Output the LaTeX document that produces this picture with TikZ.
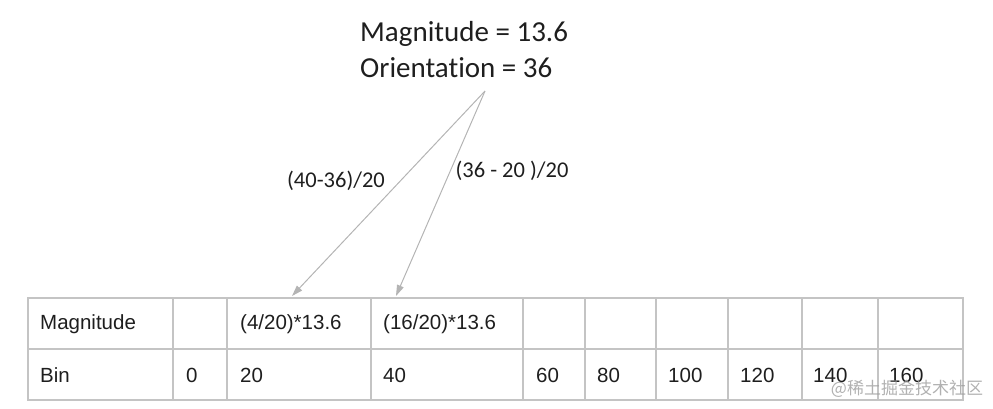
\documentclass[tikz,border=0pt]{standalone}
\usepackage{fontspec}
\setmainfont{Liberation Sans}
\newfontfamily\calib[Ligatures=NoCommon,RawFeature={-liga}]{Carlito}
\newfontfamily\cjk{Noto Sans CJK SC}
\usetikzlibrary{arrows.meta}
\definecolor{gridgray}{HTML}{C4C4C4}
\definecolor{arrgray}{HTML}{B4B4B4}
\definecolor{txt}{HTML}{1E1E1E}
\tikzset{
  cell/.style={anchor=west, inner sep=0pt, text=txt, font=\fontsize{20.5}{24}\selectfont},
  lbl/.style={inner sep=0pt, text=txt, font=\calib\fontsize{22.5}{27}\selectfont},
  conn/.style={draw=arrgray, line width=1pt, -{Triangle[length=11pt,width=7pt]}},
  gridline/.style={draw=gridgray, line width=1.2pt}
}
\begin{document}
\begin{tikzpicture}[x=1pt,y=-1pt]
\useasboundingbox (0,0) rectangle (993,408);
% title
\node[inner sep=0pt, anchor=base west, text=txt, font=\calib\fontsize{29}{35}\selectfont] (t1) at (360,41) {Magnitude = 13.6};
\node[inner sep=0pt, anchor=base west, text=txt, font=\calib\fontsize{29}{35}\selectfont] (t2) at (360,77) {Orientation = 36};
\coordinate (apex) at (485,91);
% table grid
\draw[gridline] (28,298) rectangle (963,400);
\draw[gridline] (28,349) -- (963,349);
\foreach \x in {173,227,371,523,585,656,728,802,878}
  \draw[gridline] (\x,298) -- (\x,400);
% table texts
\node[cell] (m0) at (40,324) {Magnitude};
\node[cell] (m2) at (240,324) {(4/20)*13.6};
\node[cell] (m3) at (383,324) {(16/20)*13.6};
\node[cell] (b0) at (40,375) {Bin};
\node[cell] (b1) at (186,375) {0};
\node[cell] (b2) at (240,375) {20};
\node[cell] (b3) at (383,375) {40};
\node[cell] (b4) at (536,375) {60};
\node[cell] (b5) at (597,375) {80};
\node[cell] (b6) at (668,375) {100};
\node[cell] (b7) at (740,375) {120};
\node[cell] (b8) at (813,375) {140};
\node[cell] (b9) at (889,375) {160};
% arrow targets
\coordinate (tipL) at (292,296);
\coordinate (tipR) at (396,296);
\draw[conn] (apex) -- (tipL);
\draw[conn] (apex) -- (tipR);
% labels
\node[lbl] (l1) at (336,181) {(40-36)/20};
\node[lbl] (l2) at (512,171) {(36 - 20 )/20};
% watermark
\node[inner sep=0pt, text=gridgray!80!black, font=\cjk\fontsize{17}{20}\selectfont, opacity=0.8] (wm) at (907,389) {@稀土掘金技术社区};
\end{tikzpicture}
\end{document}
